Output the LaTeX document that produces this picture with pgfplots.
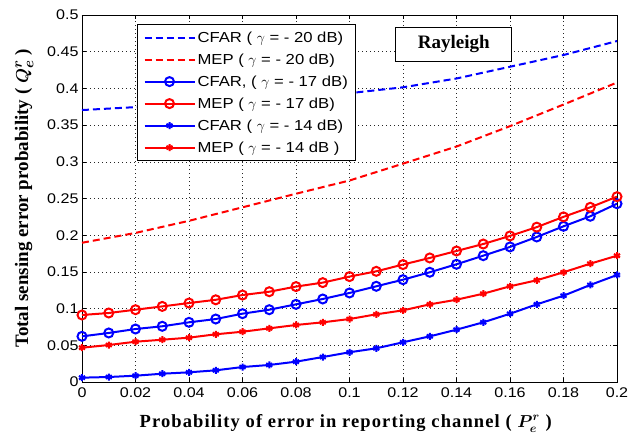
\documentclass[border=0pt]{standalone}
\usepackage{fontspec}
\setmainfont[FakeStretch=1.15]{Liberation Sans}
\newfontfamily\timesbf{Liberation Serif}
\newfontfamily\timesbfwide[LetterSpace=6]{Liberation Serif}
\usepackage{pgfplots}
\pgfplotsset{compat=1.18}
\begin{document}
\begin{tikzpicture}
\begin{axis}[
scale only axis, width=535pt, height=367pt,
xmin=0, xmax=0.2, ymin=0, ymax=0.5,
xtick={0,0.02,0.04,0.06,0.08,0.1,0.12,0.14,0.16,0.18,0.2},
ytick={0,0.05,0.1,0.15,0.2,0.25,0.3,0.35,0.4,0.45,0.5},
scaled ticks=false,
/pgf/number format/assume math mode=true,
/pgf/number format/fixed, /pgf/number format/precision=2,
ticklabel style={font=\fontsize{14}{14}\selectfont},
xticklabel style={yshift=-2pt},
grid=major, major grid style={black!85, dash pattern=on 1pt off 3pt, line width=0.6pt},
tick align=inside, major tick length=4pt, tick style={black, line width=0.5pt},
axis line style={black, line width=0.8pt},
xlabel={Probability of error in reporting channel ( $P_e^r$ )},
ylabel={Total sensing error probability ( $Q_e^r$ )},
xlabel style={font=\timesbfwide\bfseries\fontsize{18.5}{18.5}\selectfont\boldmath,
  at={(axis description cs:0.493,-0.1226)}, anchor=base},
ylabel style={font=\timesbf\bfseries\fontsize{19}{19}\selectfont\boldmath,
  at={(axis description cs:-0.108,0.5)}, anchor=center},
legend style={at={(axis description cs:0.103,0.975)}, anchor=north west,
  draw=black, line width=0.8pt, fill=white, font=\fontsize{14.5}{14.5}\selectfont,
  row sep=6pt, inner xsep=6pt, inner ysep=5pt},
legend cell align=left,
legend image code/.code={\draw[mark repeat=2,mark phase=2,#1] plot coordinates {(0pt,0pt)(25pt,0pt)(50pt,0pt)};},
]
% gamma = -20 dB (dashed)
\addplot[blue, line width=2pt, dash pattern=on 7pt off 4pt] coordinates {
(0,0.3705)(0.02,0.3745)(0.04,0.378)(0.06,0.382)(0.08,0.387)(0.1,0.3935)
(0.12,0.4015)(0.14,0.4135)(0.16,0.4295)(0.18,0.4455)(0.2,0.4645)};
\addlegendentry{CFAR ( $\gamma$ = - 20 dB)}
\addplot[red, line width=2pt, dash pattern=on 7pt off 4pt] coordinates {
(0,0.1897)(0.02,0.2031)(0.04,0.2196)(0.06,0.238)(0.08,0.2565)(0.1,0.2745)
(0.12,0.2975)(0.14,0.3208)(0.16,0.3486)(0.18,0.378)(0.2,0.408)};
\addlegendentry{MEP ( $\gamma$ = - 20 dB)}
% gamma = -17 dB (circles)
\addplot[blue, line width=2pt, mark=o, mark size=4.5pt] coordinates {
(0,0.0622)(0.01,0.0668)(0.02,0.0722)(0.03,0.0759)(0.04,0.0813)(0.05,0.0858)
(0.06,0.0931)(0.07,0.0985)(0.08,0.1058)(0.09,0.1131)(0.1,0.1213)(0.11,0.1304)
(0.12,0.1394)(0.13,0.1495)(0.14,0.1604)(0.15,0.1721)(0.16,0.184)(0.17,0.1976)
(0.18,0.2121)(0.19,0.2258)(0.2,0.2429)};
\addlegendentry{CFAR, ( $\gamma$ = - 17 dB)}
\addplot[red, line width=2pt, mark=o, mark size=4.5pt] coordinates {
(0,0.0913)(0.01,0.094)(0.02,0.0985)(0.03,0.103)(0.04,0.1076)(0.05,0.112)
(0.06,0.1185)(0.07,0.123)(0.08,0.130)(0.09,0.1354)(0.1,0.1436)(0.11,0.1508)
(0.12,0.160)(0.13,0.169)(0.14,0.1785)(0.15,0.188)(0.16,0.199)(0.17,0.211)
(0.18,0.225)(0.19,0.238)(0.2,0.2525)};
\addlegendentry{MEP ( $\gamma$ = - 17 dB)}
% gamma = -14 dB (stars)
\addplot[blue, line width=2pt, mark=asterisk, mark size=3.5pt] coordinates {
(0,0.0059)(0.01,0.0068)(0.02,0.0086)(0.03,0.0113)(0.04,0.0132)(0.05,0.0159)
(0.06,0.0204)(0.07,0.0232)(0.08,0.0277)(0.09,0.034)(0.1,0.0405)(0.11,0.0459)
(0.12,0.0541)(0.13,0.0622)(0.14,0.0713)(0.15,0.0813)(0.16,0.093)(0.17,0.1058)
(0.18,0.1176)(0.19,0.1322)(0.2,0.1458)};
\addlegendentry{CFAR ( $\gamma$ = - 14 dB)}
\addplot[red, line width=2pt, mark=asterisk, mark size=3.5pt] coordinates {
(0,0.0467)(0.01,0.0504)(0.02,0.0549)(0.03,0.0576)(0.04,0.0604)(0.05,0.065)
(0.06,0.0685)(0.07,0.0731)(0.08,0.0777)(0.09,0.0813)(0.1,0.0858)(0.11,0.0922)
(0.12,0.0976)(0.13,0.1058)(0.14,0.1121)(0.15,0.1203)(0.16,0.1304)(0.17,0.1386)
(0.18,0.1495)(0.19,0.1612)(0.2,0.1721)};
\addlegendentry{MEP ( $\gamma$ = - 14 dB )}
\node[draw=black, line width=0.8pt, fill=white, minimum width=116pt, minimum height=34pt,
  inner sep=0pt, font=\timesbf\bfseries\fontsize{19}{19}\selectfont]
  at (axis cs:0.139,0.4605) {Rayleigh};
\end{axis}
\pgfresetboundingbox
\path[use as bounding box] (-82pt,-52pt) rectangle (546pt,382pt);
\end{tikzpicture}
\end{document}
